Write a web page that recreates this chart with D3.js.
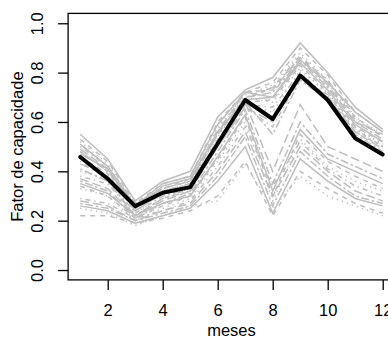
<!DOCTYPE html>
<html>
<head>
<meta charset="utf-8">
<script src="https://cdn.jsdelivr.net/npm/d3@7"></script>
<style>
  body { margin: 0; background: #fff; }
  svg { display: block; font-family: "Liberation Sans", Arial, sans-serif; }
</style>
</head>
<body>
<svg id="chart" width="388" height="338"></svg>
<script>
const months = [1, 2, 3, 4, 5, 6, 7, 8, 9, 10, 11, 12];
const xTicks = [2, 4, 6, 8, 10, 12];
const yTicks = [0, 0.2, 0.4, 0.6, 0.8, 1.0];

// upper group of grey curves (high winter/spring peak)
const upperSeries = [
  [0.55, 0.45, 0.28, 0.36, 0.40, 0.62, 0.73, 0.78, 0.92, 0.80, 0.66, 0.57],
  [0.53, 0.44, 0.27, 0.35, 0.38, 0.60, 0.72, 0.76, 0.90, 0.79, 0.64, 0.56],
  [0.52, 0.43, 0.26, 0.34, 0.37, 0.58, 0.71, 0.75, 0.88, 0.77, 0.62, 0.55],
  [0.50, 0.42, 0.27, 0.33, 0.36, 0.57, 0.70, 0.74, 0.87, 0.76, 0.61, 0.54],
  [0.49, 0.41, 0.25, 0.33, 0.36, 0.56, 0.72, 0.73, 0.86, 0.75, 0.60, 0.55],
  [0.48, 0.40, 0.26, 0.32, 0.35, 0.55, 0.70, 0.72, 0.85, 0.74, 0.60, 0.53],
  [0.47, 0.41, 0.25, 0.34, 0.37, 0.56, 0.69, 0.70, 0.84, 0.73, 0.59, 0.52],
  [0.46, 0.39, 0.24, 0.31, 0.34, 0.53, 0.68, 0.69, 0.83, 0.72, 0.58, 0.52],
  [0.45, 0.38, 0.25, 0.32, 0.35, 0.54, 0.70, 0.68, 0.82, 0.71, 0.57, 0.51],
  [0.44, 0.37, 0.23, 0.30, 0.33, 0.52, 0.67, 0.66, 0.80, 0.70, 0.56, 0.50],
  [0.43, 0.38, 0.24, 0.31, 0.34, 0.50, 0.66, 0.60, 0.79, 0.70, 0.56, 0.49],
  [0.41, 0.36, 0.22, 0.29, 0.32, 0.51, 0.68, 0.55, 0.77, 0.69, 0.55, 0.48],
  [0.51, 0.42, 0.26, 0.35, 0.38, 0.59, 0.72, 0.70, 0.85, 0.76, 0.64, 0.56],
  [0.48, 0.40, 0.24, 0.33, 0.37, 0.55, 0.69, 0.74, 0.86, 0.77, 0.62, 0.54],
  [0.40, 0.37, 0.23, 0.30, 0.33, 0.52, 0.67, 0.64, 0.81, 0.72, 0.58, 0.51],
  [0.38, 0.35, 0.22, 0.29, 0.33, 0.50, 0.66, 0.58, 0.78, 0.71, 0.57, 0.50]
];

// lower group of grey curves (dip in month 8)
const lowerSeries = [
  [0.37, 0.33, 0.22, 0.28, 0.32, 0.50, 0.68, 0.40, 0.67, 0.50, 0.45, 0.40],
  [0.36, 0.32, 0.21, 0.27, 0.31, 0.48, 0.65, 0.35, 0.60, 0.47, 0.42, 0.37],
  [0.35, 0.31, 0.22, 0.27, 0.30, 0.46, 0.63, 0.32, 0.57, 0.45, 0.40, 0.35],
  [0.34, 0.30, 0.21, 0.26, 0.30, 0.45, 0.62, 0.30, 0.55, 0.44, 0.38, 0.33],
  [0.33, 0.30, 0.20, 0.25, 0.29, 0.44, 0.60, 0.28, 0.53, 0.42, 0.36, 0.32],
  [0.29, 0.27, 0.21, 0.24, 0.28, 0.42, 0.58, 0.34, 0.52, 0.41, 0.34, 0.30],
  [0.28, 0.26, 0.20, 0.24, 0.27, 0.40, 0.56, 0.30, 0.50, 0.40, 0.32, 0.28],
  [0.27, 0.25, 0.20, 0.23, 0.26, 0.38, 0.54, 0.26, 0.48, 0.38, 0.30, 0.27],
  [0.26, 0.24, 0.19, 0.22, 0.25, 0.36, 0.50, 0.23, 0.45, 0.36, 0.29, 0.26],
  [0.22, 0.22, 0.19, 0.21, 0.24, 0.30, 0.44, 0.22, 0.40, 0.33, 0.27, 0.23],
  [0.25, 0.23, 0.18, 0.22, 0.26, 0.28, 0.43, 0.25, 0.38, 0.30, 0.26, 0.22]
];

// thick black mean curve
const meanSeries = [0.458, 0.37, 0.259, 0.313, 0.336, 0.513, 0.689, 0.612, 0.788, 0.689, 0.534, 0.468];

// R line types 1..6
const dashes = ['none', '5,5', '1.3,4', '1.3,4,5,4', '9,4', '2.6,2.6,8,2.6'];

const svg = d3.select('#chart');

const x = d3.scaleLinear().domain([0.56, 12.44]).range([68.1, 394.8]);
const y = d3.scaleLinear().domain([-0.04, 1.04]).range([279.9, 13.4]);

const line = d3.line()
  .x((d, i) => x(months[i]))
  .y(d => y(d));

const allSeries = upperSeries.concat(lowerSeries);

// grey curves
svg.append('g')
  .selectAll('path')
  .data(allSeries)
  .enter()
  .append('path')
  .attr('d', line)
  .attr('fill', 'none')
  .attr('stroke', '#bebebe')
  .attr('stroke-width', 1.5)
  .attr('stroke-dasharray', (d, i) => dashes[i % dashes.length]);

// mean curve
svg.append('path')
  .datum(meanSeries)
  .attr('d', line)
  .attr('fill', 'none')
  .attr('stroke', '#000')
  .attr('stroke-width', 4)
  .attr('stroke-linejoin', 'round')
  .attr('stroke-linecap', 'round');

// plot box
svg.append('rect')
  .attr('x', x(0.56))
  .attr('y', y(1.04))
  .attr('width', x(12.44) - x(0.56))
  .attr('height', y(-0.04) - y(1.04))
  .attr('fill', 'none')
  .attr('stroke', '#000')
  .attr('stroke-width', 1.3);

// x axis
const xAxis = svg.append('g')
  .attr('transform', `translate(0,${y(-0.04)})`)
  .call(d3.axisBottom(x).tickValues(xTicks).tickSize(10).tickSizeOuter(0).tickPadding(14));
xAxis.select('.domain').remove();
xAxis.selectAll('line').attr('stroke', '#000').attr('stroke-width', 1.3);
xAxis.selectAll('text').attr('font-size', '16.5px').attr('fill', '#000')
  .attr('font-family', '"Liberation Sans", Arial, sans-serif');

// y axis
const yAxis = svg.append('g')
  .attr('transform', `translate(${x(0.56)},0)`)
  .call(d3.axisLeft(y).tickValues(yTicks).tickSize(10).tickSizeOuter(0).tickFormat(d3.format('.1f')));
yAxis.select('.domain').remove();
yAxis.selectAll('line').attr('stroke', '#000').attr('stroke-width', 1.3);
yAxis.selectAll('text')
  .attr('font-size', '16.5px')
  .attr('fill', '#000')
  .attr('font-family', '"Liberation Sans", Arial, sans-serif')
  .attr('text-anchor', 'middle')
  .attr('dy', 0)
  .attr('x', 0)
  .attr('transform', d => `translate(${43 - x(0.56)},0) rotate(-90)`);

// axis titles
svg.append('text')
  .attr('x', x(6.5))
  .attr('y', 336)
  .attr('text-anchor', 'middle')
  .attr('font-size', '16.5px')
  .text('meses');

svg.append('text')
  .attr('transform', `translate(23,${y(0.5)}) rotate(-90)`)
  .attr('text-anchor', 'middle')
  .attr('font-size', '16.5px')
  .text('Fator de capacidade');
</script>
</body>
</html>
